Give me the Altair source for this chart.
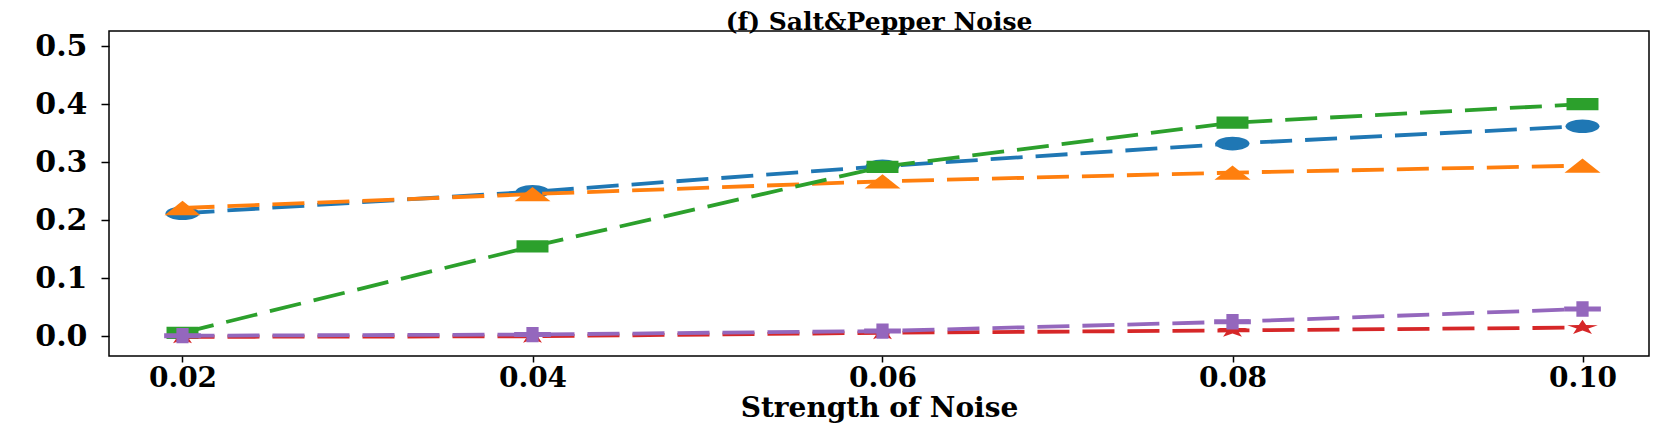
import math
import altair as alt
import pandas as pd

# ---- data ----
x_vals = [0.02, 0.04, 0.06, 0.08, 0.10]
series_names = ["Series 1", "Series 2", "Series 3", "Series 4", "Series 5"]
s1 = [0.212, 0.249, 0.293, 0.332, 0.362]    # blue, circle
s2 = [0.221, 0.245, 0.267, 0.282, 0.294]    # orange, triangle
s3 = [0.006, 0.155, 0.292, 0.368, 0.400]    # green, square
s4 = [-0.001, 0.000, 0.006, 0.010, 0.015]   # red, star
s5 = [0.001, 0.003, 0.009, 0.025, 0.047]    # purple, plus
colors = ["#1f77b4", "#ff7f0e", "#2ca02c", "#d62728", "#9467bd"]
x_ticks = [0.02, 0.04, 0.06, 0.08, 0.10]
y_ticks = [0.0, 0.1, 0.2, 0.3, 0.4, 0.5]
title_text = "(f) Salt&Pepper Noise"
x_title = "Strength of Noise"

FONT = "DejaVu Serif"


# ---- marker shapes (stretched horizontally like the reference) ----
def poly(pts):
    return "M" + " L".join(f"{x:.3f},{y:.3f}" for x, y in pts) + " Z"


def ellipse(rx, ry):
    k = 0.5523
    return (f"M{rx},0 C{rx},{k*ry:.3f} {k*rx:.3f},{ry} 0,{ry} "
            f"C{-k*rx:.3f},{ry} {-rx},{k*ry:.3f} {-rx},0 "
            f"C{-rx},{-k*ry:.3f} {-k*rx:.3f},{-ry} 0,{-ry} "
            f"C{k*rx:.3f},{-ry} {rx},{-k*ry:.3f} {rx},0 Z")


def star(hw, hh):
    pts = []
    for i in range(10):
        a = math.radians(-90 + 36 * i)
        r = 1.0 if i % 2 == 0 else 0.382
        pts.append((r * math.cos(a), r * math.sin(a)))
    sx = hw / math.cos(math.radians(18))
    sy = (2 * hh) / (1 + math.sin(math.radians(54)))
    return poly([(x * sx, y * sy) for x, y in pts])


def plus(hw, hh):
    tx = hw / 3.0
    ty = hh / 3.0
    return poly([(-tx, -hh), (tx, -hh), (tx, -ty), (hw, -ty), (hw, ty), (tx, ty),
                 (tx, hh), (-tx, hh), (-tx, ty), (-hw, ty), (-hw, -ty), (-tx, -ty)])


shapes = [
    ellipse(1.0, 0.40),
    poly([(0, -0.42), (1.06, 0.42), (-1.06, 0.42)]),
    poly([(-0.94, -0.36), (0.94, -0.36), (0.94, 0.36), (-0.94, 0.36)]),
    star(0.90, 0.42),
    plus(1.08, 0.45),
]
MARKER_SIZE = 34 * 34

rows = []
for name, vals in zip(series_names, [s1, s2, s3, s4, s5]):
    for xv, yv in zip(x_vals, vals):
        rows.append({"series": name, "x": xv, "y": yv})
df = pd.DataFrame(rows)

x_enc = alt.X(
    "x:Q",
    scale=alt.Scale(domain=[0.0158, 0.1038], nice=False, zero=False),
    axis=alt.Axis(values=x_ticks, format=".2f", title=x_title, grid=False,
                  domain=False, tickSize=6, tickWidth=1.5, tickColor="black",
                  labelPadding=2, labelFlush=False, labelFont=FONT, labelFontSize=28,
                  labelFontWeight="bold", labelColor="black", titleFont=FONT,
                  titleFontSize=28, titleFontWeight="bold", titleColor="black",
                  titlePadding=2),
)
y_enc = alt.Y(
    "y:Q",
    scale=alt.Scale(domain=[-0.034, 0.526], nice=False, zero=False),
    axis=alt.Axis(values=y_ticks, format=".1f", title=None, grid=False,
                  domain=False, tickSize=8, tickWidth=1.5, tickColor="black",
                  labelPadding=14, labelFont=FONT, labelFontSize=30,
                  labelFontWeight="bold", labelColor="black"),
)

layers = []
for name, col, shp in zip(series_names, colors, shapes):
    sub = df[df["series"] == name]
    base = alt.Chart(sub)
    layers.append(
        base.mark_line(strokeWidth=3.8, strokeDash=[32, 13], strokeCap="butt", color=col)
        .encode(x=x_enc, y=y_enc)
    )
    layers.append(
        base.mark_point(shape=shp, size=MARKER_SIZE, filled=True, opacity=1, color=col,
                        strokeWidth=0)
        .encode(x=x_enc, y=y_enc)
    )

chart = (
    alt.layer(*layers)
    .properties(
        width=1540,
        height=325,
        title=alt.TitleParams(text=title_text, font=FONT, fontSize=25, fontWeight="bold",
                              color="black", anchor="middle", offset=0, dy=4),
        autosize=alt.AutoSizeParams(type="none"),
        padding={"left": 101, "top": 23, "right": 4, "bottom": 69},
    )
    .configure(background="white")
    .configure_view(stroke="black", strokeWidth=1.5)
)

chart.save("out.html", embed_options={"renderer": "svg", "actions": False})
